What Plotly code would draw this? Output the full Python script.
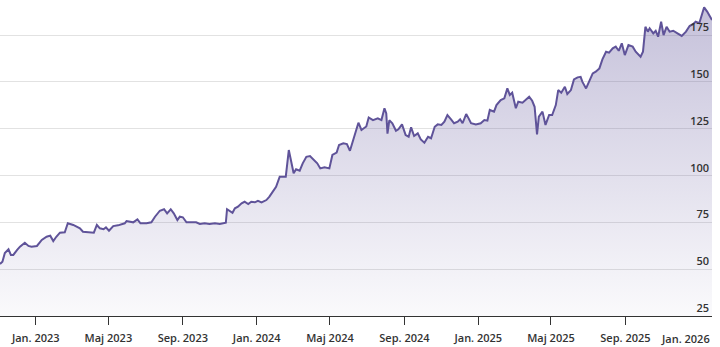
import plotly.graph_objects as go

# Closing prices (sampled trading days)
dates = [
    "2022-11-03", "2022-11-07", "2022-11-11", "2022-11-17", "2022-11-21", "2022-11-25",
    "2022-12-01", "2022-12-06", "2022-12-14", "2022-12-20", "2022-12-25",
    "2023-01-03", "2023-01-11", "2023-01-19", "2023-01-25", "2023-01-30",
    "2023-02-04", "2023-02-10", "2023-02-18", "2023-02-23",
    "2023-03-04", "2023-03-15", "2023-03-20", "2023-03-29",
    "2023-04-07", "2023-04-12", "2023-04-17", "2023-04-23", "2023-04-27",
    "2023-05-02", "2023-05-09", "2023-05-17", "2023-05-28", "2023-05-31",
    "2023-06-11", "2023-06-18", "2023-06-23",
    "2023-07-03", "2023-07-11", "2023-07-17", "2023-07-25",
    "2023-08-01", "2023-08-06", "2023-08-12", "2023-08-17", "2023-08-23", "2023-08-27",
    "2023-09-01", "2023-09-07", "2023-09-15", "2023-09-23", "2023-09-29",
    "2023-10-07", "2023-10-15", "2023-10-24",
    "2023-11-01", "2023-11-06", "2023-11-11", "2023-11-13", "2023-11-17", "2023-11-22", "2023-11-26",
    "2023-12-01", "2023-12-07", "2023-12-12", "2023-12-18", "2023-12-23", "2023-12-29",
    "2024-01-03", "2024-01-09", "2024-01-17", "2024-01-22", "2024-01-28",
    "2024-02-02", "2024-02-08", "2024-02-13", "2024-02-18", "2024-02-23", "2024-02-27",
    "2024-03-02", "2024-03-06", "2024-03-12", "2024-03-17", "2024-03-23", "2024-03-29",
    "2024-04-04", "2024-04-10", "2024-04-15", "2024-04-22", "2024-04-30",
    "2024-05-05", "2024-05-12", "2024-05-16", "2024-05-23", "2024-05-29",
    "2024-06-03", "2024-06-09", "2024-06-12", "2024-06-17", "2024-06-22", "2024-06-30",
    "2024-07-04", "2024-07-11", "2024-07-19", "2024-07-25", "2024-07-30",
    "2024-08-02", "2024-08-04", "2024-08-07", "2024-08-12", "2024-08-18", "2024-08-22", "2024-08-28",
    "2024-09-03", "2024-09-08", "2024-09-12", "2024-09-17", "2024-09-23", "2024-09-28",
    "2024-10-04", "2024-10-10", "2024-10-15", "2024-10-21", "2024-10-26",
    "2024-11-01", "2024-11-06", "2024-11-11", "2024-11-17", "2024-11-22", "2024-11-28",
    "2024-12-02", "2024-12-06", "2024-12-12", "2024-12-16", "2024-12-20", "2024-12-28",
    "2025-01-05", "2025-01-11", "2025-01-16", "2025-01-20", "2025-01-27", "2025-01-31",
    "2025-02-07", "2025-02-13", "2025-02-18", "2025-02-22", "2025-02-26",
    "2025-03-04", "2025-03-08", "2025-03-15", "2025-03-20", "2025-03-26", "2025-03-31",
    "2025-04-04", "2025-04-08", "2025-04-11", "2025-04-17", "2025-04-22", "2025-04-28",
    "2025-05-03", "2025-05-09", "2025-05-13", "2025-05-18", "2025-05-24", "2025-05-28",
    "2025-06-03", "2025-06-08", "2025-06-14", "2025-06-19", "2025-06-22", "2025-06-28",
    "2025-07-03", "2025-07-09", "2025-07-14", "2025-07-20", "2025-07-25", "2025-07-31",
    "2025-08-05", "2025-08-11", "2025-08-16", "2025-08-21", "2025-08-26", "2025-08-31",
    "2025-09-06", "2025-09-13", "2025-09-18", "2025-09-26", "2025-09-30",
    "2025-10-04", "2025-10-08", "2025-10-11", "2025-10-17", "2025-10-21", "2025-10-25", "2025-10-30",
    "2025-11-03", "2025-11-08", "2025-11-13", "2025-11-19", "2025-11-26",
    "2025-12-03", "2025-12-10", "2025-12-16", "2025-12-22", "2025-12-26",
    "2026-01-01", "2026-01-05", "2026-01-09", "2026-01-14", "2026-01-18", "2026-01-22",
]

prices = [
    52.8, 54.0, 58.6, 60.6, 57.6, 57.6,
    60.2, 62.0, 64.1, 62.4, 62.0,
    62.4, 65.6, 67.3, 67.9, 65.0,
    67.3, 69.5, 69.7, 74.5,
    73.6, 71.8, 70.0, 69.7,
    69.5, 73.6, 71.8, 71.3, 72.3,
    70.5, 73.0, 73.4, 74.5, 75.7,
    75.0, 76.6, 74.5,
    74.5, 75.0, 78.0, 81.2,
    82.0, 79.8, 82.0, 79.8, 76.2, 78.0,
    77.7, 75.0, 75.0, 75.0, 74.1,
    74.5, 74.1, 74.5,
    74.1, 74.5, 74.8, 82.0, 81.2, 80.1, 82.5,
    83.4, 85.2, 86.0, 84.8, 86.0, 85.7,
    86.5, 85.7, 86.9, 88.7, 91.4,
    94.0, 99.4, 99.4, 99.4, 113.6, 107.4,
    101.2, 103.3, 102.6, 106.5, 110.0, 110.4,
    108.3, 106.5, 103.8, 104.4, 103.8,
    111.0, 112.2, 116.3, 117.2, 116.8,
    113.2, 119.9, 124.0, 128.2, 124.3, 126.2,
    131.0, 129.6, 130.5, 129.6, 135.9,
    133.2, 122.3, 129.5, 127.9, 123.9, 124.7, 127.3,
    121.6, 120.7, 125.7, 121.1, 122.5, 119.3,
    117.5, 120.7, 119.9, 126.0, 127.3,
    127.0, 128.7, 132.3, 130.0, 127.9, 128.7,
    130.0, 127.9, 132.8, 130.5, 127.9, 127.3,
    127.9, 129.6, 129.3, 135.0, 134.1, 137.6,
    140.3, 141.2, 146.5, 143.0, 144.2,
    135.9, 139.4, 138.9, 140.3, 142.1, 139.9,
    136.7, 122.0, 131.4, 134.1, 127.0, 132.3,
    132.3, 137.6, 145.6, 144.2, 147.4, 143.5,
    145.6, 151.3, 152.4, 152.7, 150.0, 146.5,
    150.0, 154.5, 155.4, 157.2, 162.0, 166.1,
    165.6, 167.9, 168.8, 166.6, 170.6, 164.3,
    169.6, 168.8, 166.1, 163.4, 166.1,
    179.4, 176.8, 178.6, 175.9, 177.3, 174.1, 182.1,
    175.0, 179.4, 176.8, 177.3, 175.9,
    174.5, 176.8, 179.8, 180.9, 182.1,
    181.3, 185.7, 189.8, 187.5, 184.8, 183.0,
]

tick_dates = ["2023-01-01", "2023-05-01", "2023-09-01", "2024-01-01", "2024-05-01",
              "2024-09-01", "2025-01-01", "2025-05-01", "2025-09-01", "2026-01-01"]
tick_labels = ["Jan. 2023", "Maj 2023", "Sep. 2023", "Jan. 2024", "Maj 2024",
               "Sep. 2024", "Jan. 2025", "Maj 2025", "Sep. 2025", "Jan. 2026"]
y_ticks = [25, 50, 75, 100, 125, 150, 175]

LINE = "#5f5399"
TEXT = "#333333"
FONT = "Open Sans"
TICK_FONT = dict(family=FONT, size=11, color=TEXT, weight=600)

fig = go.Figure()
fig.add_trace(go.Scatter(
    x=dates, y=prices,
    mode="lines",
    line=dict(color=LINE, width=2),
    fill="tozeroy",
    fillgradient=dict(
        type="vertical",
        start=25, stop=190,
        colorscale=[[0, "rgba(95,83,153,0.03)"], [1, "rgba(95,83,153,0.36)"]],
    ),
    hoverinfo="skip",
    showlegend=False,
))

fig.update_layout(
    width=720, height=347,
    margin=dict(l=0, r=8, t=0, b=31),
    paper_bgcolor="white",
    plot_bgcolor="white",
    font=dict(family=FONT, size=11, color=TEXT),
)

# The last label sits flush with the right edge, so it is drawn separately
fig.update_xaxes(
    range=["2022-11-03", "2026-01-22"],
    tickvals=tick_dates,
    ticktext=tick_labels[:-1] + [""],
    showgrid=False,
    showline=True, linecolor=TEXT, linewidth=1,
    ticks="outside", ticklen=8, tickcolor=TEXT, tickwidth=1,
    tickfont=TICK_FONT,
    ticklabelstandoff=4,
    zeroline=False,
)
fig.add_annotation(
    text=tick_labels[-1],
    xref="paper", yref="paper",
    x=1, y=0, xanchor="right", yanchor="middle",
    yshift=-22,
    showarrow=False,
    font=TICK_FONT,
)

fig.update_yaxes(
    range=[25, 193.7],
    side="right",
    tickvals=y_ticks,
    ticklabelposition="inside top",
    showgrid=True, gridcolor="#e2e2e2", gridwidth=1,
    showline=False, zeroline=False,
    ticks="",
    tickfont=TICK_FONT,
)

fig.write_html("out.html")
